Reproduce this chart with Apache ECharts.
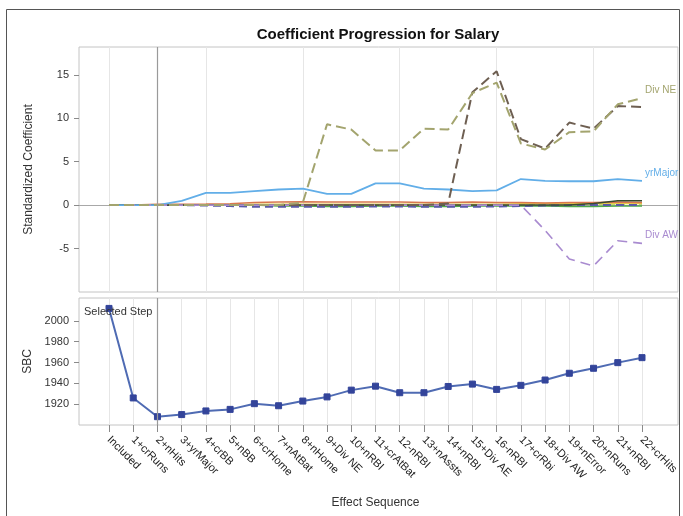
<!DOCTYPE html>
<html>
<head>
<meta charset="utf-8">
<script src="https://cdn.jsdelivr.net/npm/echarts@6/dist/echarts.min.js"></script>
<style>
  html, body { margin: 0; padding: 0; background: #fff; }
  #chart { width: 683px; height: 516px; }
</style>
</head>
<body>
<div id="chart"></div>
<script>
// Effect sequence of the stepwise selection (x axis categories)
const steps = [
  'Included', '1+crRuns', '2+nHits', '3+yrMajor', '4+crBB', '5+nBB', '6+crHome',
  '7+nAtBat', '8+nHome', '9+Div NE', '10+nRBI', '11+crAtBat', '12-nRBI',
  '13+nAssts', '14+nRBI', '15+Div AE', '16-nRBI', '17+crRbi', '18+Div AW',
  '19+nError', '20+nRuns', '21+nRBI', '22+crHits'
];
const selectedStep = '2+nHits';

// Standardized coefficients per step
const divNE   = [0, 0, 0, 0, 0, 0, 0, 0, 0.3, 9.3, 8.7, 6.3, 6.3, 8.8, 8.7, 12.9, 14.1, 7.1, 6.4, 8.4, 8.5, 11.6, 12.3];
const divAE   = [0, 0, 0, 0, 0, 0, 0, 0, 0, 0, 0, 0, 0, 0, 0.2, 13.0, 15.4, 7.6, 6.5, 9.5, 8.8, 11.4, 11.3];
const yrMajor = [0, 0, 0, 0.5, 1.4, 1.4, 1.6, 1.8, 1.9, 1.3, 1.3, 2.5, 2.5, 1.9, 1.8, 1.6, 1.7, 3.0, 2.8, 2.75, 2.75, 3.0, 2.8];
const divAW   = [0, 0, 0, 0, 0, 0, 0, 0, 0, 0, 0, 0, 0, 0, 0, 0, 0, 0, -2.9, -6.2, -7.0, -4.1, -4.4];
const nHits   = [0, 0, 0.1, 0.1, 0.12, 0.15, 0.3, 0.35, 0.4, 0.35, 0.35, 0.35, 0.35, 0.3, 0.3, 0.35, 0.3, 0.3, 0.25, 0.3, 0.3, 0.35, 0.3];
const crRuns  = [0, 0.05, 0.05, 0.05, 0.05, 0.05, 0.05, 0.05, 0.05, 0.05, 0.05, 0.05, 0.05, 0.05, 0.05, 0.05, 0.05, 0.05, 0.05, 0.05, 0.05, 0.05, 0.05];
const crBB    = [0, 0, 0, 0, -0.05, -0.1, -0.2, -0.2, -0.2, -0.2, -0.2, -0.15, -0.15, -0.2, -0.2, -0.2, -0.15, -0.1, -0.05, 0, 0, 0, 0];
const nAtBat  = [0, 0, 0, 0, 0, 0, 0, -0.1, -0.1, -0.15, -0.15, -0.1, -0.1, -0.15, -0.15, -0.1, -0.1, -0.1, -0.1, -0.15, -0.15, -0.1, -0.1];
const crHome  = [0, 0, 0, 0, 0, 0, 0.1, 0.1, 0.1, 0.1, 0.1, 0.1, 0.1, 0.1, 0.1, 0.1, 0.1, 0.15, 0.2, 0.2, 0.15, 0.2, 0.2];
const nRuns   = [0, 0, 0, 0, 0, 0, 0, 0, 0, 0, 0, 0, 0, 0, 0, 0, 0, 0, 0, 0, 0.2, 0.5, 0.5];

// SBC criterion per step
const sbc = [2012, 1926, 1908, 1910, 1913.5, 1915, 1920.5, 1918.5, 1923, 1927, 1933.5, 1937.3, 1931, 1931, 1937, 1939.3, 1934.2, 1938.1, 1943.2, 1949.7, 1954.5, 1959.9, 1964.7];

// Tick labels shown on the value axes
const coefTicks = [-5, 0, 5, 10, 15];
const sbcTicks = [1920, 1940, 1960, 1980, 2000];

const FONT = '"Liberation Sans", Arial, sans-serif';
const chart = echarts.init(document.getElementById('chart'), null, { renderer: 'canvas' });

const frameColor = '#c4c4c4';
const gridColor = '#e6e6e6';

function coefLine(name, data, color, width, dash, label) {
  const s = {
    name, type: 'line', data, xAxisIndex: 1, yAxisIndex: 1,
    symbol: 'none', silent: true, animation: false,
    lineStyle: { color, width, type: dash || 'solid' },
    z: 3
  };
  if (label) {
    s.endLabel = {
      show: true, formatter: label, color: color,
      fontFamily: FONT, fontSize: 10, distance: 3, offset: [0, -8]
    };
  }
  return s;
}

const selLine = {
  silent: true, symbol: 'none', animation: false,
  label: { show: false },
  lineStyle: { color: '#9a9a9a', width: 1.2, type: 'solid' },
  data: [{ xAxis: selectedStep }]
};

const option = {
  backgroundColor: '#fff',
  animation: false,
  textStyle: { fontFamily: FONT },
  title: [
    {
      text: 'Coefficient Progression for Salary',
      left: 373, top: 22, textAlign: 'center',
      textStyle: { fontFamily: FONT, fontSize: 15, fontWeight: 'bold', color: '#111' }
    },
    {
      text: 'Selected Step',
      left: 79, top: 301,
      textStyle: { fontFamily: FONT, fontSize: 11, fontWeight: 'normal', color: '#333' }
    }
  ],
  grid: [
    { left: 79, right: 5, top: 47, bottom: 224, show: true, borderColor: frameColor, borderWidth: 1, backgroundColor: '#fff' },
    { left: 109, right: 41, top: 47, bottom: 224 },
    { left: 79, right: 5, top: 298, bottom: 91, show: true, borderColor: frameColor, borderWidth: 1, backgroundColor: '#fff' },
    { left: 109, right: 41, top: 298, bottom: 91 }
  ],
  xAxis: [
    {
      gridIndex: 0, type: 'value', min: 0, max: 1,
      axisLine: { show: true, onZero: true, lineStyle: { color: '#a8a8a8', width: 1 } },
      axisTick: { show: false }, axisLabel: { show: false }, splitLine: { show: false }
    },
    {
      gridIndex: 1, type: 'category', data: steps, boundaryGap: false,
      axisLine: { show: false }, axisTick: { show: false }, axisLabel: { show: false },
      splitLine: { show: true, lineStyle: { color: gridColor, width: 1 } }
    },
    { gridIndex: 2, type: 'value', min: 0, max: 1, show: false },
    {
      gridIndex: 3, type: 'category', data: steps, boundaryGap: false,
      axisLine: { show: false },
      axisTick: { show: true, length: 7, lineStyle: { color: '#8a8a8a' } },
      axisLabel: { rotate: -45, margin: 13, fontSize: 11, color: '#222', fontFamily: FONT, interval: 0 },
      splitLine: { show: true, lineStyle: { color: gridColor, width: 1 } },
      name: 'Effect Sequence', nameLocation: 'middle', nameGap: 72,
      nameTextStyle: { fontFamily: FONT, fontSize: 12, color: '#333' }
    }
  ],
  yAxis: [
    { gridIndex: 0, type: 'value', min: -10, max: 18.2, show: false },
    {
      gridIndex: 1, type: 'value', min: -10, max: 18.2, offset: 30,
      axisLine: { show: false },
      axisTick: { show: true, length: 5, customValues: coefTicks, lineStyle: { color: '#8a8a8a' } },
      axisLabel: { customValues: coefTicks, margin: 10, fontSize: 11, color: '#333', fontFamily: FONT },
      splitLine: { show: false },
      name: 'Standardized Coefficient', nameLocation: 'middle', nameGap: 44,
      nameTextStyle: { fontFamily: FONT, fontSize: 12, color: '#333' }
    },
    { gridIndex: 2, type: 'value', min: 1900, max: 2022, show: false },
    {
      gridIndex: 3, type: 'value', min: 1900, max: 2022, offset: 30,
      axisLine: { show: false },
      axisTick: { show: true, length: 5, customValues: sbcTicks, lineStyle: { color: '#8a8a8a' } },
      axisLabel: {
        customValues: sbcTicks, margin: 10, fontSize: 11, color: '#333', fontFamily: FONT,
        formatter: (v) => String(v)
      },
      splitLine: { show: false },
      name: 'SBC', nameLocation: 'middle', nameGap: 44,
      nameTextStyle: { fontFamily: FONT, fontSize: 12, color: '#333' }
    }
  ],
  series: [
    Object.assign(coefLine('crRuns', crRuns, '#b7d98a', 1.5, [6, 4]), {
      markLine: selLine
    }),
    coefLine('crHome', crHome, '#e6c84a', 1.5),
    coefLine('nAtBat', nAtBat, '#4ea84a', 1.5),
    coefLine('crBB', crBB, '#5a5aa8', 2, [8, 5]),
    coefLine('nHits', nHits, '#d9774e', 1.5),
    coefLine('nRuns', nRuns, '#3a4a30', 1.5),
    coefLine('yrMajor', yrMajor, '#62aee8', 1.8, 'solid', 'yrMajor'),
    coefLine('Div AW', divAW, '#a98bd0', 1.6, [10, 6], 'Div AW'),
    coefLine('Div AE', divAE, '#6e5f52', 2, [10, 5]),
    coefLine('Div NE', divNE, '#a3a46e', 2, [10, 5], 'Div NE'),
    {
      name: 'SBC', type: 'line', data: sbc, xAxisIndex: 3, yAxisIndex: 3,
      symbol: 'rect', symbolSize: 6, silent: true,
      lineStyle: { color: '#4f6bb3', width: 2 },
      itemStyle: { color: '#33449a', borderColor: '#33449a' },
      markLine: selLine,
      z: 3
    }
  ],
  graphic: [
    // hide curve labels running past the plot frame
    { type: 'rect', shape: { x: 678.5, y: 40, width: 10, height: 260 }, style: { fill: '#fff' }, z: 50, silent: true },
    // outer border
    { type: 'rect', shape: { x: 6.5, y: 9.5, width: 673, height: 520 }, style: { fill: 'none', stroke: '#555', lineWidth: 1 }, z: 60, silent: true }
  ]
};

chart.setOption(option);
</script>
</body>
</html>
